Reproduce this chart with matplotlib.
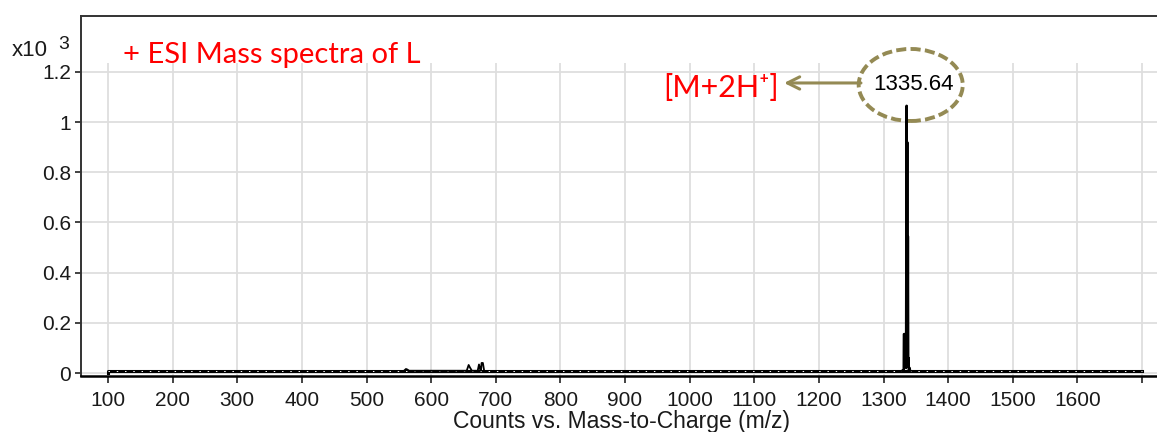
import matplotlib
matplotlib.use('Agg')
import matplotlib.pyplot as plt
from matplotlib.patches import Ellipse

# Datos del espectro (intensidades en unidades de x10^3)
xticks = [100, 200, 300, 400, 500, 600, 700, 800, 900, 1000, 1100, 1200, 1300, 1400, 1500, 1600, 1700]
xtick_labels = [str(v) for v in xticks[:-1]] + ['']
yticks = [0, 0.2, 0.4, 0.6, 0.8, 1.0, 1.2]
ytick_labels = ['0', '0.2', '0.4', '0.6', '0.8', '1', '1.2']

# linea base
baseline_mz = [100, 100, 1700]
baseline_int = [0.0, 0.009, 0.009]

# picos pequenos
minor_mz = [558, 561, 563, 566, 655, 658, 660, 663, 672, 674, 676, 677, 678, 680, 682]
minor_int = [0.009, 0.016, 0.014, 0.009, 0.009, 0.032, 0.022, 0.009, 0.009, 0.034, 0.012, 0.009, 0.04, 0.04, 0.009]

# cumulo principal [M+2H+]
cluster_mz = [1329.5, 1331.2, 1331.5, 1334.3, 1334.8, 1335.64, 1336.0, 1336.6, 1337.1, 1337.6, 1338.1, 1338.6, 1339.2, 1340.2, 1341.0]
cluster_int = [0.009, 0.009, 0.155, 0.155, 0.02, 1.065, 0.05, 0.92, 0.05, 0.545, 0.03, 0.06, 0.01, 0.02, 0.009]

peak_label = '1335.64'
ion_label = '[M+2H\u207a]'
title = '+ ESI Mass spectra of L'
xlabel = 'Counts vs. Mass-to-Charge (m/z)'

# Figura
fig = plt.figure(figsize=(11.57, 4.32), dpi=100)
ax = fig.add_axes([0.070, 0.1296, 0.935, 0.8334])
xmin, xmax = 58.2, 1732
ymin, ymax = -0.012, 1.423
ax.set_xlim(xmin, xmax)
ax.set_ylim(ymin, ymax)

# rejilla
grid_color = '#dedede'
ax.hlines(yticks, xmin, xmax, color=grid_color, lw=1.3, zorder=0)
ax.vlines(xticks, ymin, 1.236, color=grid_color, lw=1.3, zorder=0)

# espectro
ax.plot(baseline_mz, baseline_int, color='black', lw=2.2, zorder=4)
ax.plot(baseline_mz[1:], baseline_int[1:], color='white', lw=0.7, dashes=(1.5, 7), zorder=4)
ax.plot(minor_mz, minor_int, color='black', lw=1.3, zorder=4)
ax.plot(cluster_mz, cluster_int, color='black', lw=1.8, zorder=5)

# elipse con la etiqueta del pico
olive = '#948A54'
ax.add_patch(Ellipse((1342, 1.148), 161, 0.287, fc='white', ec=olive, lw=2.8,
                     ls=(0, (2.6, 1.1)), zorder=3))
ax.text(1347, 1.148, peak_label, ha='center', va='center', fontsize=16,
        family='Liberation Sans', color='black', zorder=6)
ax.annotate('', xy=(1146, 1.156), xytext=(1265, 1.156),
            arrowprops=dict(arrowstyle='->', color=olive, lw=2.2, mutation_scale=22,
                            shrinkA=0, shrinkB=0), zorder=6)
ax.text(1138, 1.135, ion_label, ha='right', va='center', fontsize=22, color='red',
        family=['Lato', 'DejaVu Sans'], zorder=6)

# ejes y ticks
ax.set_xticks(xticks)
ax.set_xticklabels(xtick_labels)
ax.set_yticks(yticks)
ax.set_yticklabels(ytick_labels)
ax.tick_params(axis='x', direction='out', length=5, width=1.2, pad=6, labelsize=15,
               color='#222222', labelcolor='#1a1a1a')
ax.tick_params(axis='y', direction='out', length=4, width=1.2, pad=3, labelsize=15,
               color='#222222', labelcolor='#1a1a1a')
for lbl in ax.get_xticklabels() + ax.get_yticklabels():
    lbl.set_family('Liberation Sans')
ax.set_xlabel(xlabel, fontsize=16.5, family='Liberation Sans', color='#1a1a1a', labelpad=0)

ax.spines['right'].set_visible(False)
ax.spines['left'].set_color('#333333')
ax.spines['top'].set_color('#333333')
ax.spines['left'].set_linewidth(1.4)
ax.spines['top'].set_linewidth(1.4)
ax.spines['bottom'].set_linewidth(1.8)

# textos de la figura
fig.text(123 / 1157, 1 - 63 / 432, title, color='red', fontsize=21, va='baseline', family='Lato')
fig.text(12 / 1157, 1 - 56 / 432, 'x10', fontsize=16, va='baseline', family='Liberation Sans', color='#1a1a1a')
fig.text(58 / 1157, 1 - 49 / 432, '3', fontsize=14, va='baseline', family='Liberation Sans', color='#1a1a1a')

fig.savefig('out.png', dpi=100)
